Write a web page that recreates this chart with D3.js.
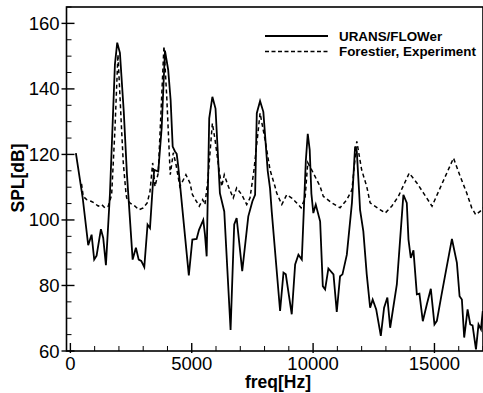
<!DOCTYPE html>
<html>
<head>
<meta charset="utf-8">
<script src="https://cdn.jsdelivr.net/npm/d3@7"></script>
<style>
  html, body { margin: 0; padding: 0; background: #fff; }
  svg { display: block; font-family: "Liberation Sans", Arial, Helvetica, sans-serif; }
</style>
</head>
<body>
<svg id="chart" width="483" height="393"></svg>
<script>
// URANS/FLOWer simulation: frequency [Hz] and SPL [dB]
const uransFreq = [227, 503, 734, 874, 981, 1080, 1258, 1353, 1464, 1630, 1835, 1930, 2041, 2200, 2330,
  2565, 2700, 2815, 2920, 3045, 3180, 3280, 3390, 3455, 3620, 3760, 3897, 4030, 4130, 4215, 4310, 4380,
  4445, 4880, 5025, 5200, 5300, 5475, 5545, 5615, 5720, 5850, 5980, 6160, 6340, 6600, 6750, 6850, 7080,
  7330, 7500, 7610, 7680, 7815, 7950, 8130, 8225, 8295, 8640, 8780, 8875, 9120, 9260, 9395, 9535, 9700,
  9780, 9860, 9930, 10010, 10110, 10290, 10400, 10495, 10630, 10840, 10975, 11110, 11210, 11390, 11600,
  11730, 11800, 11900, 11935, 12070, 12210, 12350, 12455, 12600, 12790, 12925, 13060, 13175, 13450, 13585,
  13720, 13860, 13930, 14025, 14135, 14275, 14380, 14520, 14685, 14850, 15000, 15100, 15280, 15485, 15720,
  15925, 16035, 16130, 16225, 16365, 16475, 16570, 16710, 16815, 16915, 16990];
const uransSPL = [120.4, 107, 92.3, 95.5, 87.9, 89.1, 97.2, 94.5, 86.2, 108, 147.5, 154.1, 151, 133, 114,
  87.9, 91.5, 87.9, 87.5, 85.6, 98.6, 97.5, 110, 115.3, 114.8, 128, 151.7, 145.8, 136.6, 122.4, 120.9, 120.2,
  116.3, 83.1, 94, 94.2, 97, 100, 95.5, 88.9, 131, 137.6, 134, 108.2, 102.6, 66.4, 98.6, 100.6, 84.4,
  101.1, 105.7, 107.7, 132.6, 136.3, 133, 115, 109.7, 102.6, 72.2, 83.9, 83.4, 71.2, 86.4, 89.4, 87.9, 118,
  126.3, 121.4, 108, 102.1, 104.7, 99.6, 79.8, 78.8, 85.2, 83.4, 71.9, 82.8, 83.4, 89.4, 105.2,
  122.4, 121, 108, 103.1, 96.5, 83.4, 73.2, 75.7, 72.7, 64.6, 73.2, 76.3, 67.1, 80.3, 94,
  107.7, 105.2, 94, 88.4, 90.7, 77.3, 77.5, 69.1, 74.2, 79, 68.1, 69.2, 76.7, 84.9, 94.2,
  86.9, 76.7, 75.7, 64.1, 72.7, 68.1, 67.8, 60.5, 68.1, 66.6, 72.2];

// Forestier experiment: frequency [Hz] and SPL [dB]
const expFreq = [460, 530, 670, 850, 980, 1150, 1290, 1420, 1560, 1700, 1835, 1960, 2110, 2180, 2290, 2320,
  2450, 2660, 2825, 3000, 3165, 3280, 3390, 3485, 3620, 3855, 3970, 4080, 4115, 4240, 4350, 4510, 4760,
  4925, 5030, 5310, 5450, 5545, 5660, 5850, 5960, 6125, 6235, 6340, 6510, 6710, 6850, 7060, 7265, 7400,
  7560, 7815, 8020, 8225, 8430, 8500, 8710, 8915, 9120, 9325, 9505, 9670, 9780, 10010, 10290, 10420, 10770,
  11110, 11390, 11600, 11800, 12000, 12210, 12350, 12770, 12970, 13240, 13515, 13960, 14275, 14550, 14900,
  15785, 16060, 16330, 16535, 16700, 16880, 16990];
const expSPL = [111, 107.2, 106.2, 105.7, 105.2, 104.2, 104.7, 103.7, 104.2, 107.7, 127.5, 150.5, 127.5, 117.4, 108.2, 106.7,
  105.2, 104.2, 103.1, 103.7, 105.2, 108.7, 117.4, 110.2, 114.3, 153.1, 137.6, 119.4, 113.8, 120.5, 117, 110.2, 113.8,
  111.3, 107.7, 104.2, 106.2, 104.7, 112, 129.5, 124.5, 115.3, 110.2, 113.8, 110.2, 106.7, 109.8, 107.7, 104.7, 106.7,
  115, 132.6, 124.5, 115.3, 110.2, 108.2, 104.7, 107.7, 106.7, 105.2, 103.7, 106.7, 117.5, 114.3, 110.2, 107.2, 105.2,
  103.7, 106.2, 109.2, 124, 115.3, 110.2, 105.2, 103.1, 102.1, 104.2, 107.2, 114.3, 111.3, 108.2, 104.2,
  118.9, 113.3, 108.2, 103.7, 101.6, 102.6, 103.7];

const xMajorTicks = [0, 5000, 10000, 15000];
const yMajorTicks = [60, 80, 100, 120, 140, 160];
const legendLabels = ["URANS/FLOWer", "Forestier, Experiment"];

(function draw() {
  const svg = d3.select("#chart");
  const plotLeft = 66.5, plotRight = 483, plotTop = 7, plotBottom = 351;

  const x = d3.scaleLinear().domain([-160, 17000]).range([plotLeft, plotRight]);
  const y = d3.scaleLinear().domain([60, 165]).range([plotBottom, plotTop]);

  // clip region for the curves
  svg.append("defs").append("clipPath").attr("id", "plotClip")
    .append("rect").attr("x", plotLeft).attr("y", plotTop)
    .attr("width", plotRight - plotLeft).attr("height", plotBottom - plotTop);

  const line = d3.line().x(d => x(d[0])).y(d => y(d[1]));
  const uransData = uransFreq.map((f, i) => [f, uransSPL[i]]);
  const expData = expFreq.map((f, i) => [f, expSPL[i]]);

  const plot = svg.append("g").attr("clip-path", "url(#plotClip)");
  plot.append("path").datum(expData).attr("d", line)
    .attr("fill", "none").attr("stroke", "#000").attr("stroke-width", 1.5)
    .attr("stroke-dasharray", "4,3");
  plot.append("path").datum(uransData).attr("d", line)
    .attr("fill", "none").attr("stroke", "#000").attr("stroke-width", 1.8)
    .attr("stroke-linejoin", "miter");

  // frame
  svg.append("rect").attr("x", plotLeft).attr("y", plotTop)
    .attr("width", plotRight - plotLeft).attr("height", plotBottom - plotTop)
    .attr("fill", "none").attr("stroke", "#000").attr("stroke-width", 1.6);

  // x axis ticks (inward) and labels
  const xMinor = d3.range(0, 17001, 1000).filter(v => !xMajorTicks.includes(v));
  const xAxisG = svg.append("g");
  xAxisG.selectAll("line.minor").data(xMinor).join("line").attr("class", "minor")
    .attr("x1", d => x(d)).attr("x2", d => x(d)).attr("y1", plotBottom).attr("y2", plotBottom - 5)
    .attr("stroke", "#000").attr("stroke-width", 1);
  xAxisG.selectAll("line.major").data(xMajorTicks).join("line").attr("class", "major")
    .attr("x1", d => x(d)).attr("x2", d => x(d)).attr("y1", plotBottom + 2).attr("y2", plotBottom - 8)
    .attr("stroke", "#000").attr("stroke-width", 1.4);
  xAxisG.selectAll("text").data(xMajorTicks).join("text")
    .attr("x", d => x(d)).attr("y", plotBottom + 18.5)
    .attr("text-anchor", "middle").attr("font-size", 18.5).text(d => d);

  // y axis ticks and labels
  const yMinor = d3.range(60, 166, 5).filter(v => !yMajorTicks.includes(v));
  const yAxisG = svg.append("g");
  yAxisG.selectAll("line.minor").data(yMinor).join("line").attr("class", "minor")
    .attr("x1", plotLeft).attr("x2", plotLeft + 5).attr("y1", d => y(d)).attr("y2", d => y(d))
    .attr("stroke", "#000").attr("stroke-width", 1);
  yAxisG.selectAll("line.major").data(yMajorTicks).join("line").attr("class", "major")
    .attr("x1", plotLeft - 5).attr("x2", plotLeft + 8).attr("y1", d => y(d)).attr("y2", d => y(d))
    .attr("stroke", "#000").attr("stroke-width", 1.4);
  yAxisG.selectAll("text").data(yMajorTicks).join("text")
    .attr("x", 59.5).attr("y", d => y(d) + 6.5)
    .attr("text-anchor", "end").attr("font-size", 18.5).text(d => d);

  // axis titles
  svg.append("text").attr("x", 278).attr("y", 388)
    .attr("text-anchor", "middle").attr("font-size", 17.5).attr("font-weight", "bold").text("freq[Hz]");
  svg.append("text").attr("transform", "translate(24,178) rotate(-90)")
    .attr("text-anchor", "middle").attr("font-size", 17.5).attr("font-weight", "bold").text("SPL[dB]");

  // legend
  const legend = svg.append("g");
  const legendY = [36, 51.5];
  legend.append("line").attr("x1", 265).attr("x2", 328).attr("y1", legendY[0]).attr("y2", legendY[0])
    .attr("stroke", "#000").attr("stroke-width", 1.8);
  legend.append("line").attr("x1", 265).attr("x2", 328).attr("y1", legendY[1]).attr("y2", legendY[1])
    .attr("stroke", "#000").attr("stroke-width", 1.5).attr("stroke-dasharray", "4,2.5");
  legend.selectAll("text").data(legendLabels).join("text")
    .attr("x", 339).attr("y", (d, i) => legendY[i] + 4.5)
    .attr("font-size", 13.4).attr("font-weight", "bold").text(d => d);
})();
</script>
</body>
</html>
